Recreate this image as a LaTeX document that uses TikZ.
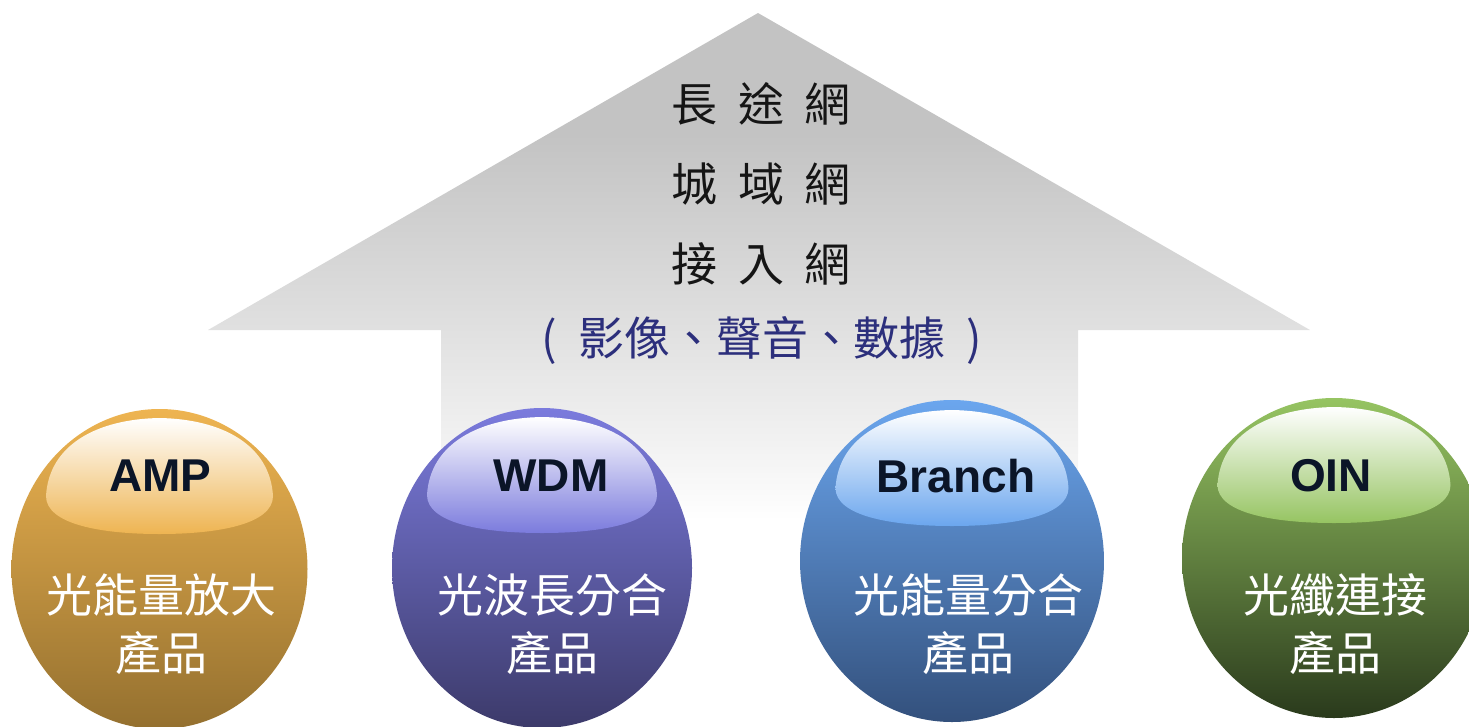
\documentclass[tikz,border=0pt]{standalone}
\usepackage{fontspec}
\setmainfont{Liberation Sans}
\newfontfamily\cjk{Noto Sans CJK TC}
\newfontfamily\cjkwide[WordSpace=2,Scale=0.9999]{Noto Sans CJK TC}
\usetikzlibrary{shapes.geometric}

\definecolor{arrowA}{HTML}{C3C3C3}
\definecolor{arrowB}{HTML}{E0E0E0}
\definecolor{arrowC}{HTML}{F6F6F6}
\definecolor{amptop}{HTML}{EEB451}
\definecolor{ampbot}{HTML}{94702F}
\definecolor{wdmtop}{HTML}{7B7BDD}
\definecolor{wdmbot}{HTML}{3C3A6A}
\definecolor{brtop}{HTML}{6BA6EE}
\definecolor{brbot}{HTML}{33507C}
\definecolor{oitop}{HTML}{96C462}
\definecolor{oibot}{HTML}{2A3A1C}
\definecolor{tagnavy}{HTML}{0B1528}
\definecolor{tiertext}{HTML}{151515}
\definecolor{medianavy}{HTML}{2C2F7C}

\pgfdeclareverticalshading{arrowfade}{100bp}{color(0bp)=(white); color(25bp)=(white); color(30bp)=(arrowC); color(44bp)=(arrowB); color(63bp)=(arrowA); color(100bp)=(arrowA)}

\tikzset{
	orb/.style 2 args={ellipse,inner sep=0pt,minimum width=300pt,minimum height=320pt,top color=#1,bottom color=#2},
	tag/.style={font=\bfseries\fontsize{46}{46}\selectfont,text=tagnavy,inner sep=0pt},
	blurb/.style={font=\cjk\fontsize{46}{58}\selectfont,text=white,align=center,inner sep=0pt},
	tier/.style={font=\cjkwide\fontsize{46}{46}\selectfont,text=tiertext,inner sep=0pt},
	media/.style={font=\cjkwide\fontsize{46}{46}\selectfont,text=medianavy,inner sep=0pt}
}

% glossy cap on the upper part of an orb
\newcommand{\gloss}[3]{%
	\shade[shift={(#1.center)},xscale=#2,top color=white,bottom color=#3]
		(-115,-73) .. controls (-112,-125) and (-62,-150) .. (0,-151)
		.. controls (62,-150) and (112,-125) .. (115,-73)
		.. controls (115,-45) and (60,-35) .. (0,-35)
		.. controls (-60,-35) and (-115,-45) .. cycle;}

\begin{document}
\begin{tikzpicture}[x=1pt,y=-1pt]
	\useasboundingbox (0,0) rectangle (1469,726);
	\clip (0,0) rectangle (1469,726);

	% upward arrow
	\shade[shading=arrowfade] (758,13) -- (1310,330) -- (1078,330) -- (1078,520)
		-- (441,520) -- (441,330) -- (208,330) -- cycle;

	\node [tier] (longhaul) at (761,104) {長 途 網};
	\node [tier] (metro) at (761,184) {城 域 網};
	\node [tier] (access) at (761,264) {接 入 網};
	\node [media] (services) at (762,340) {( 影像、聲音、數據 )};

	% product orbs
	\node [orb={amptop}{ampbot},minimum width=296pt] (amp) at (159.5,569) {};
	\node [orb={wdmtop}{wdmbot}] (wdm) at (542,568) {};
	\node [orb={brtop}{brbot},minimum width=304pt,minimum height=322pt] (branch) at (952,561) {};
	\node [orb={oitop}{oibot},minimum width=304pt] (oin) at (1334,558) {};

	\gloss{amp}{0.987}{amptop}
	\gloss{wdm}{1}{wdmtop}
	\gloss{branch}{1.013}{brtop}
	\gloss{oin}{1.013}{oitop}

	\node [tag] (amptag) at (160.5,476) {AMP};
	\node [tag] (wdmtag) at (551,476) {WDM};
	\node [tag] (brtag) at (956,476) {Branch};
	\node [tag] (oitag) at (1331,476) {OIN};

	\node [blurb] (ampnote) at (161.5,624) {光能量放大\\產品};
	\node [blurb] (wdmnote) at (552,624) {光波長分合\\產品};
	\node [blurb] (brnote) at (968,624) {光能量分合\\產品};
	\node [blurb] (oinote) at (1335,624) {光纖連接\\產品};
\end{tikzpicture}
\end{document}
